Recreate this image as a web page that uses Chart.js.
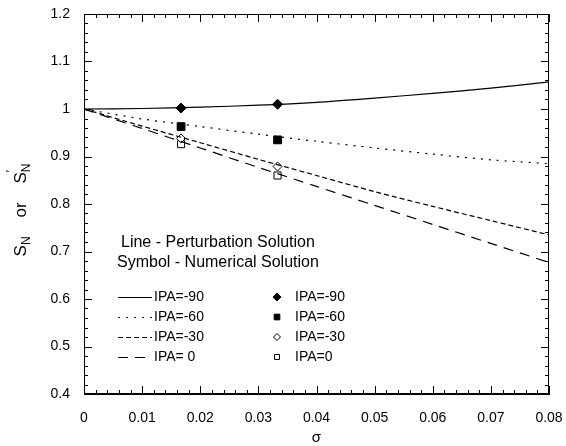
<!DOCTYPE html>
<html><head><meta charset="utf-8">
<script src="https://cdn.jsdelivr.net/npm/chart.js@4/dist/chart.umd.min.js"></script>
<style>html,body{margin:0;padding:0;background:#fff}#wrap{width:566px;height:446px}</style>
</head><body><div id="wrap"><canvas id="c" width="566" height="446"></canvas></div>
<script>
// ---- data ----
const sigma = [0, 0.01, 0.02, 0.03, 0.04, 0.05, 0.06, 0.07, 0.08];
const lineIPA90 = [1.000, 1.001, 1.004, 1.008, 1.014, 1.023, 1.033, 1.044, 1.057];
const lineIPA60 = [1.000, 0.979, 0.963, 0.947, 0.932, 0.918, 0.905, 0.893, 0.885];
const lineIPA30 = [1.000, 0.964, 0.929, 0.894, 0.860, 0.826, 0.795, 0.765, 0.735];
const lineIPA0  = [1.000, 0.959, 0.918, 0.877, 0.837, 0.797, 0.757, 0.717, 0.677];
const symSigma = [0.0167, 0.0333];
const symIPA90 = [1.002, 1.010];
const symIPA60 = [0.963, 0.935];
const symIPA30 = [0.938, 0.879];
const symIPA0  = [0.926, 0.860];
const xTicks = [0, 0.01, 0.02, 0.03, 0.04, 0.05, 0.06, 0.07, 0.08];
const xTickLabels = ['0', '0.01', '0.02', '0.03', '0.04', '0.05', '0.06', '0.07', '0.08'];
const yTicks = [0.4, 0.5, 0.6, 0.7, 0.8, 0.9, 1.0, 1.1, 1.2];
const yTickLabels = ['0.4', '0.5', '0.6', '0.7', '0.8', '0.9', '1', '1.1', '1.2'];
const lineNames = ['IPA=-90', 'IPA=-60', 'IPA=-30', 'IPA= 0'];
const symNames = ['IPA=-90', 'IPA=-60', 'IPA=-30', 'IPA=0'];
const noteLines = ['Line - Perturbation Solution', 'Symbol - Numerical Solution'];

const FONT = "'Liberation Sans', Arial, sans-serif";
const pts = (xs, ys) => xs.map((x, i) => ({x: x, y: ys[i]}));
const dashes = [[], [2, 6], [5, 3], [10, 7]];
const lineData = [lineIPA90, lineIPA60, lineIPA30, lineIPA0];
const symData = [symIPA90, symIPA60, symIPA30, symIPA0];
const symStyles = [
  {pointStyle: 'rectRot', radius: 5, fill: true},
  {pointStyle: 'rect', radius: 5.5, fill: true},
  {pointStyle: 'rectRot', radius: 4.5, fill: false},
  {pointStyle: 'rect', radius: 5, fill: false}
];

const datasets = [];
lineData.forEach((d, i) => datasets.push({
  data: pts(sigma, d), showLine: true, borderColor: '#000', borderWidth: 1.2,
  borderDash: dashes[i], pointRadius: 0, tension: 0.3, fill: false
}));
symData.forEach((d, i) => datasets.push({
  data: pts(symSigma, d), showLine: false, pointStyle: symStyles[i].pointStyle,
  pointRadius: symStyles[i].radius, pointBorderColor: '#000', pointBorderWidth: 1,
  pointBackgroundColor: symStyles[i].fill ? '#000' : '#fff'
}));

const decor = {
  id: 'decor',
  afterDraw(chart) {
    const ctx = chart.ctx, a = chart.chartArea, sx = chart.scales.x, sy = chart.scales.y;
    ctx.save();
    ctx.strokeStyle = '#000'; ctx.lineWidth = 1;
    ctx.strokeRect(a.left + 0.5, a.top + 0.5, a.right - a.left - 1, a.bottom - a.top - 1);
    // inward ticks
    ctx.beginPath();
    for (let k = 0; k <= 40; k++) {
      const v = k * 0.002;
      const px = Math.round(sx.getPixelForValue(v)) + 0.5;
      const len = (k % 5 === 0) ? 8 : 4;
      ctx.moveTo(px, a.bottom); ctx.lineTo(px, a.bottom - len);
      ctx.moveTo(px, a.top); ctx.lineTo(px, a.top + len);
    }
    for (let k = 0; k <= 40; k++) {
      const v = 0.4 + k * 0.02;
      const py = Math.round(sy.getPixelForValue(v)) + 0.5;
      const len = (k % 5 === 0) ? 8 : 4;
      ctx.moveTo(a.left, py); ctx.lineTo(a.left + len, py);
      ctx.moveTo(a.right, py); ctx.lineTo(a.right - len, py);
    }
    ctx.stroke();

    ctx.fillStyle = '#000';
    // x title
    ctx.font = '15px ' + FONT;
    ctx.textAlign = 'center'; ctx.textBaseline = 'middle';
    ctx.fillText('\u03c3', (a.left + a.right) / 2, 438);

    // y title: S_N or S'_N (rotated)
    ctx.save();
    ctx.translate(21, 210); ctx.rotate(-Math.PI / 2);
    const big = '17px ' + FONT, small = '12px ' + FONT;
    const parts = [
      {t: 'S', f: big, dy: 0}, {t: 'N', f: small, dy: 6},
      {t: '    or    ', f: big, dy: 0},
      {t: 'S', f: big, dy: 0}, {t: '\u2032', f: small, dy: -9, overlap: true}, {t: 'N', f: small, dy: 6}
    ];
    let total = 0;
    parts.forEach(p => { ctx.font = p.f; p.w = ctx.measureText(p.t).width; if (!p.overlap) total += p.w; });
    let cx = -total / 2;
    ctx.textAlign = 'left'; ctx.textBaseline = 'middle';
    parts.forEach(p => { ctx.font = p.f; ctx.fillText(p.t, cx, p.dy); if (!p.overlap) cx += p.w; });
    ctx.restore();

    // note text
    ctx.font = '16px ' + FONT;
    ctx.textAlign = 'left'; ctx.textBaseline = 'middle';
    ctx.fillText(noteLines[0], 121, 243);
    ctx.fillText(noteLines[1], 117, 263);

    // legend
    ctx.font = '14px ' + FONT;
    const rows = [297, 317, 337, 357];
    rows.forEach((ry, i) => {
      ctx.save();
      ctx.setLineDash(dashes[i]); ctx.lineWidth = 1.2;
      ctx.beginPath(); ctx.moveTo(118, ry + 0.5); ctx.lineTo(152, ry + 0.5); ctx.stroke();
      ctx.restore();
      ctx.fillText(lineNames[i], 154, ry);
      ctx.save();
      ctx.lineWidth = 1; ctx.strokeStyle = '#000';
      ctx.fillStyle = symStyles[i].fill ? '#000' : '#fff';
      Chart.helpers.drawPoint(ctx, {pointStyle: symStyles[i].pointStyle, radius: symStyles[i].fill ? 4 : 3.5, borderWidth: 1, rotation: 0}, 277, ry);
      ctx.restore();
      ctx.fillStyle = '#000';
      ctx.fillText(symNames[i], 295, ry);
    });
    ctx.restore();
  }
};

new Chart(document.getElementById('c'), {
  type: 'scatter',
  data: {datasets: datasets},
  options: {
    responsive: false, devicePixelRatio: 1, animation: false,
    layout: {padding: {top: 14, right: 17, left: 0, bottom: 0}},
    plugins: {legend: {display: false}, tooltip: {enabled: false}},
    scales: {
      x: {
        type: 'linear', min: 0, max: 0.08,
        afterBuildTicks: s => { s.ticks = xTicks.map(v => ({value: v})); },
        afterFit: s => { s.height = 52; s.paddingLeft = 0; s.paddingRight = 0; },
        ticks: {color: '#000', font: {family: FONT, size: 14}, padding: 16, maxRotation: 0,
          callback: (v, i) => xTickLabels[i]},
        grid: {display: false, drawTicks: false},
        border: {display: true, color: '#000'}
      },
      y: {
        type: 'linear', min: 0.4, max: 1.2,
        afterBuildTicks: s => { s.ticks = yTicks.map(v => ({value: v})); },
        afterFit: s => { s.width = 84; s.paddingTop = 0; s.paddingBottom = 0; },
        ticks: {color: '#000', font: {family: FONT, size: 14}, padding: 14,
          callback: (v, i) => yTickLabels[i]},
        grid: {display: false, drawTicks: false},
        border: {display: true, color: '#000'}
      }
    }
  },
  plugins: [decor]
});
</script>
</body></html>
